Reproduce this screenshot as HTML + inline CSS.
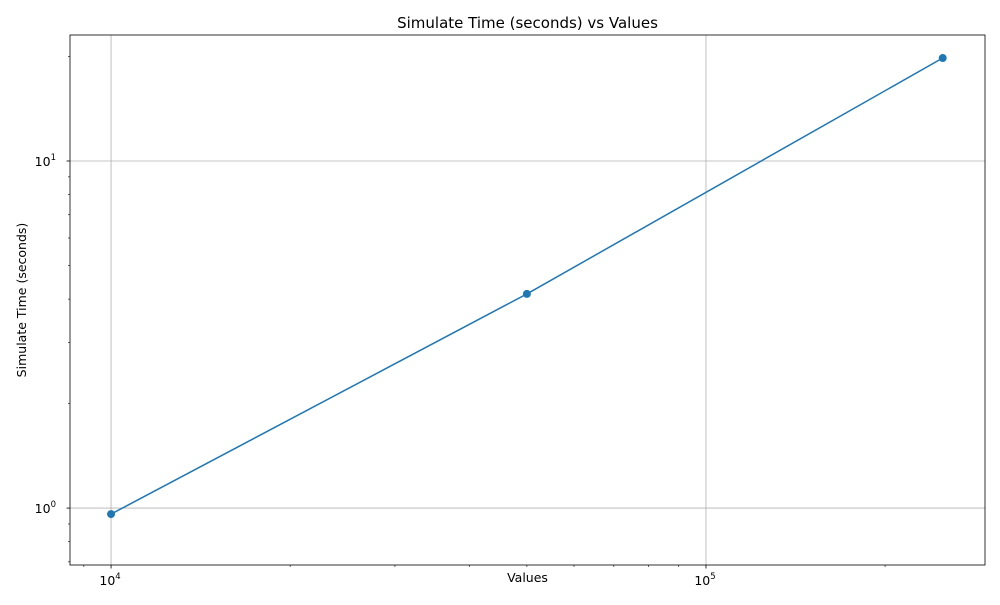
<!DOCTYPE html>
<html><head><meta charset="utf-8"><style>
body{margin:0;background:#fff;font-family:"Liberation Sans","DejaVu Sans",sans-serif}
svg text{font-family:"DejaVu Sans","Liberation Sans",sans-serif}
</style></head><body>
<svg id="chart" width="1000" height="600" xmlns="http://www.w3.org/2000/svg"></svg>
<script>
const xValues = [10000, 50000, 250000];
const yValues = [0.961, 4.14, 19.8];
const xMajorTicks = [1e4, 1e5];
const xTickLabels = ["4", "5"];
const yMajorTicks = [1, 10];
const yTickLabels = ["0", "1"];

const L=70,R=985,T=35,B=565;
const xlo=3.931,xhi=5.469,ylo=-0.164,yhi=1.363;
const sx=v=>L+(Math.log10(v)-xlo)/(xhi-xlo)*(R-L);
const sy=v=>B-(Math.log10(v)-ylo)/(yhi-ylo)*(B-T);
const svg=document.getElementById('chart');
const NS="http://www.w3.org/2000/svg";
function add(tag,attrs,parent){const e=document.createElementNS(NS,tag);for(const k in attrs)e.setAttribute(k,attrs[k]);(parent||svg).appendChild(e);return e;}

xMajorTicks.forEach(v=>{const g=add('line',{x1:sx(v),x2:sx(v),y1:T,y2:B,stroke:'#b0b0b0','stroke-width':0.8});

});
yMajorTicks.forEach(v=>{const g=add('line',{x1:L,x2:R,y1:sy(v),y2:sy(v),stroke:'#b0b0b0','stroke-width':0.8});

});

for(let d=3;d<=5;d++)for(let m=1;m<10;m++){const v=m*Math.pow(10,d);const x=sx(v);if(x<L||x>R)continue;
const t=add('line',{x1:x,x2:x,y1:B,y2:B+(m===1?3.5:2),stroke:'#000','stroke-width':m===1?0.8:0.6});

}
for(let d=-1;d<=1;d++)for(let m=1;m<10;m++){const v=m*Math.pow(10,d);const y=sy(v);if(y<T||y>B)continue;
const t=add('line',{x1:L,x2:L-(m===1?3.5:2),y1:y,y2:y,stroke:'#000','stroke-width':m===1?0.8:0.6});

}
xMajorTicks.forEach((v,i)=>{const t=add('text',{x:sx(v)-1,y:B+20,'font-size':12.5,'text-anchor':'middle'});
t.innerHTML='10<tspan dy="-6" font-size="8.5">'+xTickLabels[i]+'</tspan>';

});
yMajorTicks.forEach((v,i)=>{const t=add('text',{x:L-14,y:sy(v)+5,'font-size':12.5,'text-anchor':'end'});
t.innerHTML='10<tspan dy="-6" font-size="8.5">'+yTickLabels[i]+'</tspan>';

});

const pts=xValues.map((x,i)=>sx(x)+','+sy(yValues[i])).join(' ');
const pl=add('polyline',{points:pts,fill:'none',stroke:'#1f77b4','stroke-width':1.5});


xValues.forEach((x,i)=>{const c=add('circle',{cx:sx(x),cy:sy(yValues[i]),r:4,fill:'#1f77b4'});

});

const f=add('rect',{x:L,y:T,width:R-L,height:B-T,fill:'none',stroke:'#000','stroke-width':0.8});



const ti=add('text',{x:(L+R)/2,y:28,'font-size':15,'text-anchor':'middle'});ti.textContent='Simulate Time (seconds) vs Values';


const xl=add('text',{x:(L+R)/2,y:582,'font-size':12.5,'text-anchor':'middle'});xl.textContent='Values';


const yl=add('text',{x:0,y:0,'font-size':12.5,'text-anchor':'middle',transform:'translate(26,'+((T+B)/2)+') rotate(-90)'});yl.textContent='Simulate Time (seconds)';


</script>
</body></html>
